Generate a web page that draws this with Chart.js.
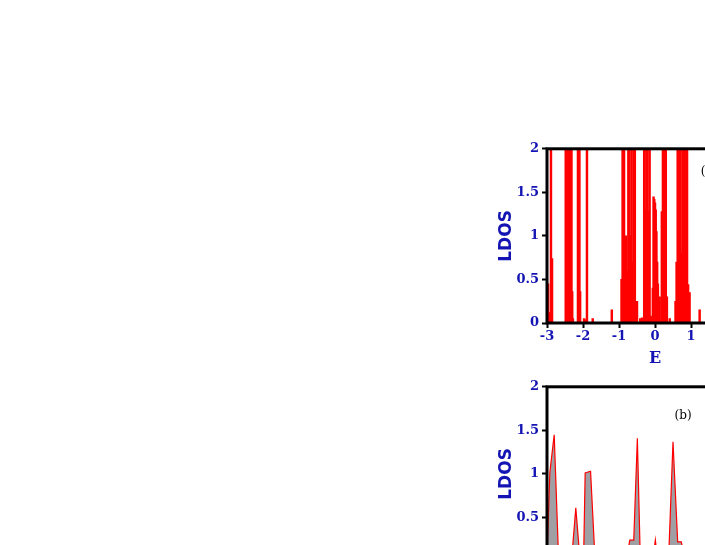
<!DOCTYPE html>
<html>
<head>
<meta charset="utf-8">
<script src="https://cdn.jsdelivr.net/npm/chart.js@4.4.0/dist/chart.umd.min.js"></script>
<style>
  html, body { margin: 0; padding: 0; background: #fff; overflow: hidden; width: 705px; height: 545px; }
  .panel { position: absolute; }
  #panelA { left: 490px; top: 138px; width: 300px; height: 240px; }
  #panelB { left: 490px; top: 376px; width: 300px; height: 240px; }
</style>
</head>
<body>
<div class="panel" id="panelA"><canvas id="chartA"></canvas></div>
<div class="panel" id="panelB"><canvas id="chartB"></canvas></div>
<script>
// x ticks / y ticks
const energyTicks = [-3, -2, -1, 0, 1, 2, 3];
const energyLabels = ['-3', '-2', '-1', '0', '1', '2', '3'];
const ldosTicks = [0, 0.5, 1, 1.5, 2];
const ldosLabels = ['0', '0.5', '1', '1.5', '2'];

// panel (a): spike positions and heights (values above 2 are clipped)
const spikeE = [
  -2.97, -2.95, -2.92, -2.89, -2.86,
  -2.48, -2.46, -2.44, -2.42, -2.40, -2.38, -2.36, -2.34, -2.32, -2.30, -2.28,
  -2.14, -2.12, -2.10, -2.08, -1.97, -1.95, -1.89, -1.73, -1.20,
  -0.93, -0.90, -0.88, -0.86, -0.83, -0.80, -0.77, -0.74, -0.71, -0.68, -0.65, -0.62, -0.59, -0.56,
  -0.50, -0.41, -0.36,
  -0.30, -0.27, -0.24, -0.21, -0.18, -0.15, -0.12,
  -0.08, -0.06, -0.04, -0.02, 0.00, 0.02, 0.04, 0.06, 0.08, 0.10, 0.13,
  0.19, 0.22, 0.24, 0.27, 0.30, 0.33, 0.41, 0.57,
  0.60, 0.63, 0.66, 0.68, 0.71, 0.74, 0.77, 0.80, 0.83, 0.86, 0.89, 0.92, 0.96, 1.24,
  1.72, 1.88, 2.10, 2.30, 2.86, 2.89
];
const spikeV = [
  0.45, 0.12, 0.10, 2.6, 0.74,
  2.6, 2.6, 0.25, 2.6, 2.6, 0.30, 2.6, 0.06, 2.6, 0.36, 0.05,
  2.6, 2.6, 2.6, 0.36, 0.05, 0.04, 2.6, 0.05, 0.15,
  0.50, 2.6, 2.6, 2.6, 0.95, 1.0, 0.6, 2.6, 2.6, 1.0, 2.6, 0.7, 2.6, 2.6,
  0.25, 0.05, 0.06,
  2.6, 1.3, 2.6, 2.6, 1.28, 2.6, 0.08,
  0.05, 0.40, 1.45, 1.42, 1.38, 1.30, 1.05, 0.70, 0.45, 0.15, 0.30,
  1.28, 2.6, 2.6, 2.6, 2.6, 0.30, 0.05, 0.25,
  0.70, 2.6, 2.6, 1.0, 2.6, 0.8, 2.6, 2.6, 0.30, 2.6, 2.6, 0.44, 0.35, 0.15,
  0.05, 2.6, 2.6, 0.4, 2.6, 0.45
];

// panel (b): smoothed LDOS curve
const curveE = [
  -3.00, -2.92, -2.80, -2.68, -2.36, -2.30, -2.20, -2.10, -1.98, -1.94, -1.79, -1.67,
  -0.78, -0.70, -0.59, -0.49, -0.41, -0.05, 0.01, 0.06,
  0.38, 0.50, 0.63, 0.73, 0.82, 1.20, 1.79, 1.94, 2.06, 2.20, 2.30, 2.68, 2.80, 2.92, 3.00
];
const curveV = [
  0.05, 1.02, 1.45, 0.05, 0.05, 0.10, 0.61, 0.10, 0.10, 1.01, 1.03, 0.05,
  0.05, 0.24, 0.24, 1.41, 0.05, 0.05, 0.24, 0.05,
  0.05, 1.37, 0.22, 0.22, 0.05, 0.05, 0.05, 1.03, 1.01, 0.10, 0.61, 0.05, 1.45, 1.02, 0.05
];

const panelTags = ['(a)', '(b)'];
const tagE = [1.5, 0.78];
const tagV = [1.73, 1.67];

const blue = '#1414b4';

const framePlugin = {
  id: 'frame',
  afterDraw(chart) {
    const { ctx, chartArea: a } = chart;
    ctx.save();
    ctx.strokeStyle = '#000';
    ctx.lineWidth = 3;
    ctx.strokeRect(a.left, a.top, a.right - a.left, a.bottom - a.top);
    const i = chart.options.plugins.frame.tag;
    ctx.fillStyle = '#000';
    ctx.font = '12px "DejaVu Serif"';
    ctx.textAlign = 'center';
    ctx.textBaseline = 'middle';
    ctx.fillText(panelTags[i], chart.scales.x.getPixelForValue(tagE[i]), chart.scales.y.getPixelForValue(tagV[i]));
    ctx.restore();
  }
};

function axes() {
  return {
    x: {
      type: 'linear', min: -3, max: 3, offset: false,
      afterBuildTicks: s => { s.ticks = energyTicks.map(v => ({ value: v })); },
      border: { display: false },
      grid: { drawOnChartArea: false, offset: false, tickLength: 5, tickWidth: 2, color: '#000' },
      ticks: {
        color: blue, padding: 1, maxRotation: 0,
        font: { family: 'DejaVu Serif', weight: 'bold', size: 13 },
        callback: v => energyLabels[energyTicks.indexOf(v)]
      },
      title: { display: true, text: 'E', color: blue, padding: { top: 0, bottom: 10 }, font: { family: 'DejaVu Serif', weight: 'bold', size: 16 } },
      afterFit: s => { s.height = 55; }
    },
    y: {
      min: 0, max: 2,
      afterBuildTicks: s => { s.ticks = ldosTicks.map(v => ({ value: v })); },
      border: { display: false },
      grid: { drawOnChartArea: false, tickLength: 5, tickWidth: 2, color: '#000' },
      ticks: {
        color: blue, padding: 3,
        font: { family: 'DejaVu Serif', weight: 'bold', size: 13 },
        callback: v => ldosLabels[ldosTicks.indexOf(v)]
      },
      title: { display: true, text: 'LDOS', color: blue, padding: { top: 6, bottom: 0 }, font: { family: 'DejaVu Sans', weight: 'bold', size: 17 } },
      afterFit: s => { s.width = 57; }
    }
  };
}

new Chart(document.getElementById('chartA'), {
  type: 'bar',
  data: {
    datasets: [{
      data: spikeE.map((e, i) => ({ x: e, y: spikeV[i] })),
      backgroundColor: '#ff0000',
      barThickness: 1.8,
      borderWidth: 0
    }]
  },
  options: {
    responsive: true,
    maintainAspectRatio: false,
    animation: false,
    layout: { padding: { top: 10, right: 27, left: 0, bottom: 0 } },
    plugins: { legend: { display: false }, tooltip: { enabled: false }, frame: { tag: 0 } },
    scales: axes()
  },
  plugins: [framePlugin]
});

new Chart(document.getElementById('chartB'), {
  type: 'line',
  data: {
    datasets: [{
      data: curveE.map((e, i) => ({ x: e, y: curveV[i] })),
      borderColor: '#ff0000',
      borderWidth: 1.2,
      backgroundColor: '#a0a0a4',
      fill: 'origin',
      pointRadius: 0,
      tension: 0
    }]
  },
  options: {
    responsive: true,
    maintainAspectRatio: false,
    animation: false,
    layout: { padding: { top: 10, right: 27, left: 0, bottom: 0 } },
    plugins: { legend: { display: false }, tooltip: { enabled: false }, frame: { tag: 1 } },
    scales: axes()
  },
  plugins: [framePlugin]
});
</script>
</body>
</html>
